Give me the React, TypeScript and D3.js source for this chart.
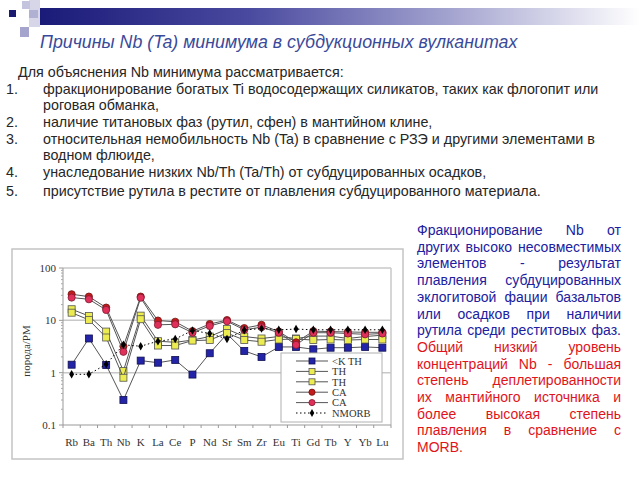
import React, { useEffect, useRef } from 'react';
import * as d3 from 'd3';

// element order on the spider diagram
const elements = ['Rb', 'Ba', 'Th', 'Nb', 'K', 'La', 'Ce', 'P', 'Nd', 'Sr', 'Sm', 'Zr', 'Eu', 'Ti', 'Gd', 'Tb', 'Y', 'Yb', 'Lu'];

const kTh = [1.42, 4.5, 1.4, 0.3, 1.7, 1.55, 1.75, 0.92, 2.35, 5.5, 2.6, 2.0, 3.1, 3.1, 2.8, 3.0, 3.0, 3.1, 3.0];
const th1 = [16.3, 12.1, 6.1, 1.08, 12.3, 4.0, 3.8, 4.2, 4.9, 6.8, 4.9, 4.5, 4.9, 4.5, 5.0, 5.0, 4.5, 4.9, 5.2];
const th2 = [14.0, 10.2, 4.7, 0.8, 10.5, 3.3, 3.3, 4.1, 4.2, 5.7, 4.2, 3.9, 4.3, 4.4, 4.2, 4.3, 4.2, 4.3, 4.3];
const ca1 = [31.5, 28.4, 17.5, 3.2, 28.4, 9.9, 9.4, 6.2, 8.5, 10.1, 7.1, 8.2, 6.1, 3.8, 6.2, 6.1, 6.0, 5.9, 5.9];
const ca2 = [27.2, 25.3, 15.8, 2.5, 27.0, 8.2, 8.4, 5.8, 7.8, 9.6, 6.6, 7.4, 5.8, 3.4, 5.8, 5.8, 5.6, 5.4, 5.6];
const nmorb = [0.93, 0.93, 1.45, 3.4, 3.2, 4.0, 4.4, 6.4, 5.6, 4.4, 6.5, 7.0, 6.6, 6.8, 6.6, 6.6, 6.6, 6.6, 6.6];

const yTicks = [0.1, 1, 10, 100];

const seriesNames = ['<K TH', 'TH', 'TH', 'CA', 'CA', 'NMORB'];

const title = 'Причины Nb (Ta) минимума в субдукционных вулканитах';
const intro = 'Для объяснения Nb минимума рассматривается:';
const listItems: [string, string][] = [
  ['1.', 'фракционирование богатых Ti водосодержащих силикатов, таких как флогопит или'],
  ['', 'роговая обманка,'],
  ['2.', 'наличие титановых фаз (рутил, сфен) в мантийном клине,'],
  ['3.', 'относительная немобильность Nb (Ta) в сравнение с РЗЭ и другими элементами в'],
  ['', 'водном флюиде,'],
  ['4.', 'унаследование низких Nb/Th (Ta/Th) от субдуцированных осадков,'],
  ['5.', 'присутствие рутила в рестите от плавления субдуцированного материала.'],
];
const blueLines = [
  'Фракционирование Nb от',
  'других высоко несовместимых',
  'элементов - результат',
  'плавления субдуцированных',
  'эклогитовой фации базальтов',
  'или осадков при наличии',
  'рутила среди реститовых фаз.',
];
const redLines = [
  'Общий низкий уровень',
  'концентраций Nb - большая',
  'степень деплетированности',
  'их мантийного источника и',
  'более высокая степень',
  'плавления в сравнение с',
  'MORB.',
];

const SANS = '"Liberation Sans", Arial, sans-serif';
const SERIF = '"Liberation Serif", "Times New Roman", serif';

const App: React.FC = () => {
  const svgRef = useRef<SVGSVGElement>(null);

  useEffect(() => {
    const svg = d3.select(svgRef.current);
    svg.selectAll('*').remove();

    // ---- header decoration ----
    const defs = svg.append('defs');
    const grad = defs.append('linearGradient').attr('id', 'bar').attr('x1', '0%').attr('x2', '100%');
    grad.append('stop').attr('offset', '0%').attr('stop-color', '#1a1a78');
    grad.append('stop').attr('offset', '35%').attr('stop-color', '#4a4aa0');
    grad.append('stop').attr('offset', '70%').attr('stop-color', '#a8a8d2');
    grad.append('stop').attr('offset', '100%').attr('stop-color', '#ffffff');
    svg.append('rect').attr('x', 40).attr('y', 8).attr('width', 600).attr('height', 17).attr('fill', 'url(#bar)');
    svg.append('rect').attr('x', 29).attr('y', 0).attr('width', 11).attr('height', 27).attr('fill', '#d6d6e8');
    svg.append('rect').attr('x', 22).attr('y', 1).attr('width', 8).attr('height', 8).attr('fill', '#c4c4de');
    svg.append('rect').attr('x', 29).attr('y', 10).attr('width', 9).attr('height', 8).attr('fill', '#b0b0d2');
    svg.append('rect').attr('x', 20).attr('y', 27).attr('width', 9).attr('height', 10).attr('fill', '#a4a4cc');
    svg.append('rect').attr('x', 9).attr('y', 10).attr('width', 7).attr('height', 7).attr('fill', '#1a1a70');

    svg.append('text').attr('x', 40).attr('y', 48)
      .attr('font-family', SANS).attr('font-style', 'italic').attr('font-size', 17.8)
      .attr('fill', '#3a4a9a').text(title);

    // ---- intro list ----
    const bodySize = 14.3;
    svg.append('text').attr('x', 18).attr('y', 77)
      .attr('font-family', SANS).attr('font-size', bodySize).attr('fill', '#262626').text(intro);
    const listY = [94, 110, 127, 144, 160, 177, 196];
    listItems.forEach(([num, txt], i) => {
      if (num) svg.append('text').attr('x', 6).attr('y', listY[i])
        .attr('font-family', SANS).attr('font-size', bodySize).attr('fill', '#262626').text(num);
      svg.append('text').attr('x', 43).attr('y', listY[i])
        .attr('font-family', SANS).attr('font-size', bodySize).attr('fill', '#262626').text(txt);
    });

    // ---- justified right-hand paragraph ----
    const left = 417;
    const right = 621;
    const allLines = blueLines.map(t => ({ t, c: '#2020a0' })).concat(redLines.map(t => ({ t, c: '#e0141a' })));
    allLines.forEach((ln, i) => {
      const y = 235 + i * 16.7;
      const words = ln.t.split(' ');
      const last = i === allLines.length - 1;
      const g = svg.append('g').attr('font-family', SANS).attr('font-size', 14).attr('fill', ln.c);
      if (last || words.length < 2) {
        g.append('text').attr('x', left).attr('y', y).text(ln.t);
        return;
      }
      const nodes = words.map(w => g.append('text').attr('y', y).text(w));
      const widths = nodes.map(n => (n.node() as SVGTextElement).getComputedTextLength());
      const gap = (right - left - d3.sum(widths)) / (words.length - 1);
      let x = left;
      nodes.forEach((n, k) => {
        n.attr('x', x);
        x += widths[k] + gap;
      });
    });

    // ---- chart ----
    svg.append('rect').attr('x', 12).attr('y', 249).attr('width', 391).attr('height', 210)
      .attr('fill', '#fff').attr('stroke', '#c4c4c4').attr('stroke-width', 1.5);

    const x0 = 63, x1 = 391, yTop = 268, yBot = 425;
    const x = d3.scalePoint<string>().domain(elements).range([x0, x1]).padding(0.5);
    const y = d3.scaleLog().domain([0.1, 100]).range([yBot, yTop]);

    const chart = svg.append('g');
    // gridlines at 1, 10, 100 and the right edge
    [1, 10, 100].forEach(v => {
      chart.append('line').attr('x1', x0).attr('x2', x1).attr('y1', y(v)).attr('y2', y(v))
        .attr('stroke', '#c8c8c8').attr('stroke-width', 1.5);
    });
    chart.append('line').attr('x1', x1).attr('x2', x1).attr('y1', yTop).attr('y2', yBot)
      .attr('stroke', '#c8c8c8').attr('stroke-width', 1.5);

    // y axis
    chart.append('line').attr('x1', x0).attr('x2', x0).attr('y1', yTop).attr('y2', yBot).attr('stroke', '#999');
    const minor: number[] = [];
    [0.1, 1, 10].forEach(d => { for (let m = 2; m <= 9; m++) minor.push(d * m); });
    minor.forEach(v => {
      chart.append('line').attr('x1', x0 - 2).attr('x2', x0).attr('y1', y(v)).attr('y2', y(v)).attr('stroke', '#aaa');
    });
    yTicks.forEach(v => {
      chart.append('line').attr('x1', x0 - 4).attr('x2', x0).attr('y1', y(v)).attr('y2', y(v)).attr('stroke', '#999');
      chart.append('text').attr('x', 56).attr('y', y(v) + 4).attr('text-anchor', 'end')
        .attr('font-family', SERIF).attr('font-size', 11).attr('fill', '#333').text(String(v));
    });
    chart.append('text').attr('transform', `translate(30,351) rotate(-90)`).attr('text-anchor', 'middle')
      .attr('font-family', SERIF).attr('font-size', 11).attr('fill', '#333').text('порода/PM');

    // x axis
    chart.append('line').attr('x1', x0).attr('x2', x1).attr('y1', yBot).attr('y2', yBot).attr('stroke', '#999');
    const step = x.step();
    d3.range(elements.length + 1).forEach(i => {
      const tx = x0 + i * step;
      chart.append('line').attr('x1', tx).attr('x2', tx).attr('y1', yBot).attr('y2', yBot + 3).attr('stroke', '#999');
    });
    elements.forEach(e => {
      chart.append('text').attr('x', x(e)!).attr('y', 446).attr('text-anchor', 'middle')
        .attr('font-family', SERIF).attr('font-size', 11).attr('fill', '#333').text(e);
    });

    type Marker = 'square' | 'circle' | 'diamond';
    const styles: { data: number[]; fill: string; stroke: string; marker: Marker; dash?: string; line: string }[] = [
      { data: kTh, fill: '#2424a8', stroke: '#101050', marker: 'square', line: '#555' },
      { data: th1, fill: '#ecec50', stroke: '#555', marker: 'square', line: '#555' },
      { data: th2, fill: '#ecec50', stroke: '#555', marker: 'square', line: '#555' },
      { data: ca1, fill: '#c41c1c', stroke: '#701010', marker: 'circle', line: '#555' },
      { data: ca2, fill: '#e0305a', stroke: '#801830', marker: 'circle', line: '#555' },
      { data: nmorb, fill: '#000', stroke: '#000', marker: 'diamond', dash: '1.5,2.5', line: '#000' },
    ];

    const drawMarker = (g: d3.Selection<SVGGElement, unknown, null, undefined>, m: Marker, cx: number, cy: number, fill: string, stroke: string, size = 7) => {
      if (m === 'square') {
        g.append('rect').attr('x', cx - size / 2).attr('y', cy - size / 2).attr('width', size).attr('height', size)
          .attr('fill', fill).attr('stroke', stroke).attr('stroke-width', 0.8);
      } else if (m === 'circle') {
        g.append('circle').attr('cx', cx).attr('cy', cy).attr('r', size / 2 + 0.1)
          .attr('fill', fill).attr('stroke', stroke).attr('stroke-width', 0.8);
      } else {
        g.append('path').attr('d', d3.symbol(d3.symbolDiamond, size * 3)()!)
          .attr('transform', `translate(${cx},${cy})`).attr('fill', fill);
      }
    };

    const line = d3.line<number>().x((_, i) => x(elements[i])!).y(d => y(d));
    styles.forEach(s => {
      const g = chart.append('g') as d3.Selection<SVGGElement, unknown, null, undefined>;
      g.append('path').attr('d', line(s.data)!).attr('fill', 'none').attr('stroke', s.line)
        .attr('stroke-width', 1).attr('stroke-dasharray', s.dash ?? null);
      s.data.forEach((v, i) => drawMarker(g, s.marker, x(elements[i])!, y(v), s.fill, s.stroke));
    });

    // legend
    const lg = chart.append('g') as d3.Selection<SVGGElement, unknown, null, undefined>;
    lg.append('rect').attr('x', 281).attr('y', 353).attr('width', 101).attr('height', 69)
      .attr('fill', '#fff').attr('stroke', '#b0b0b0');
    seriesNames.forEach((name, i) => {
      const ly = 361 + i * 10.4;
      const s = styles[i];
      lg.append('line').attr('x1', 296).attr('x2', 328).attr('y1', ly).attr('y2', ly)
        .attr('stroke', s.line).attr('stroke-width', 1).attr('stroke-dasharray', s.dash ?? null);
      drawMarker(lg, s.marker, 312, ly, s.fill, s.stroke, 6);
      lg.append('text').attr('x', 332).attr('y', ly + 3.8)
        .attr('font-family', SERIF).attr('font-size', 10.5).attr('fill', '#333').text(name);
    });
  }, []);

  return (
    <svg ref={svgRef} width={640} height={480}
      style={{ position: 'absolute', left: 0, top: 0, background: '#fff' }} />
  );
};

export default App;
